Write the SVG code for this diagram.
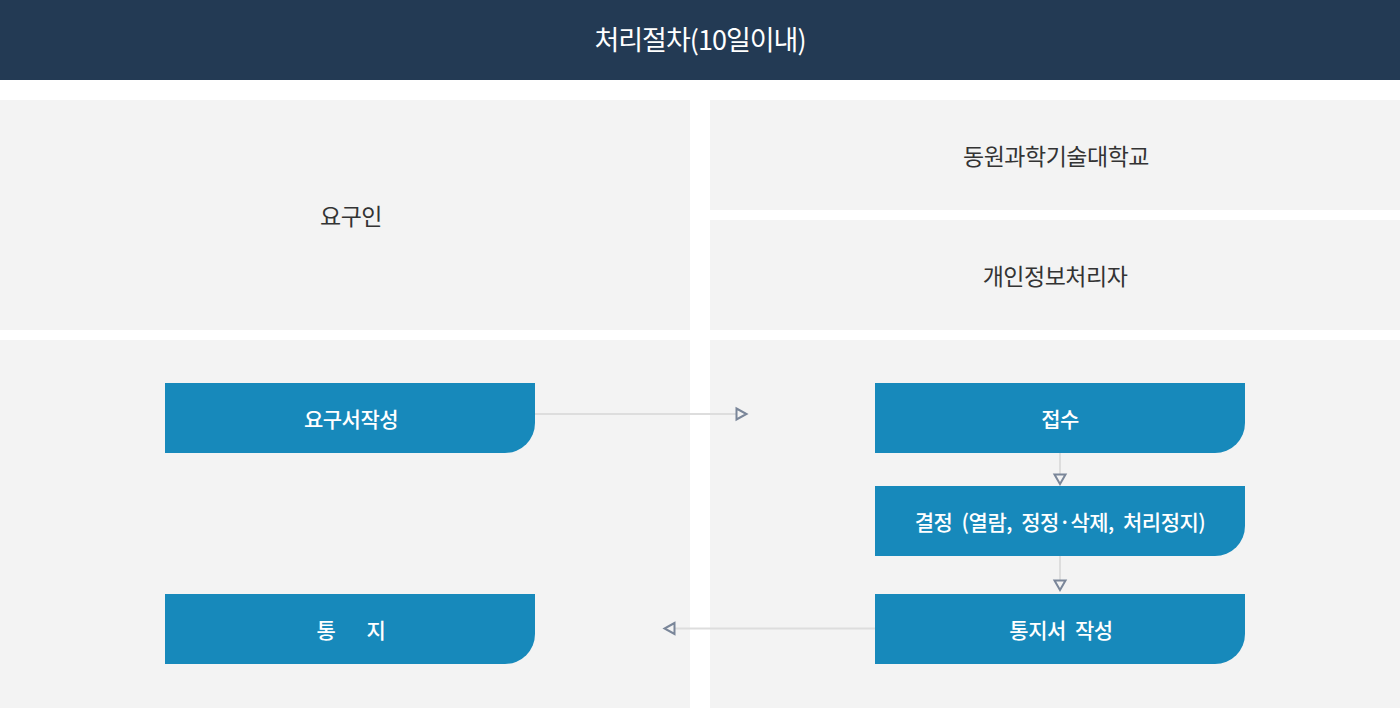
<svg xmlns="http://www.w3.org/2000/svg" width="1400" height="708" viewBox="0 0 1400 708">
<defs>
<style>
.panel{fill:#f3f3f3}
.box{fill:#1789bb}
.lbl{font-family:"Noto Sans CJK KR","Noto Sans",sans-serif;font-size:23px;fill:#333;text-anchor:middle;dominant-baseline:central;letter-spacing:-0.5px}
.btxt{font-family:"Noto Sans CJK KR","Noto Sans",sans-serif;font-size:21px;font-weight:500;fill:#fff;text-anchor:middle;dominant-baseline:central;letter-spacing:-0.5px;word-spacing:5px}
.title{font-family:"Noto Sans CJK KR","Noto Sans",sans-serif;font-size:27px;fill:#fff;text-anchor:middle;dominant-baseline:central;letter-spacing:-1px}
.conn{stroke:#dddddd;stroke-width:2;fill:none}
.head{fill:none;stroke:#7a8699;stroke-width:2;stroke-linejoin:miter}
</style>
</defs>
<rect width="1400" height="708" fill="#ffffff"/>
<g id="header">
<rect x="0" y="0" width="1400" height="80" fill="#233a54"/>
<text class="title" x="700" y="38">처리절차(10일이내)</text>
</g>
<g id="lane-requester">
<rect class="panel" x="0" y="100" width="690" height="230"/>
<text class="lbl" x="351" y="215">요구인</text>
</g>
<g id="lane-university">
<rect class="panel" x="710" y="100" width="690" height="110"/>
<text class="lbl" x="1056" y="155">동원과학기술대학교</text>
</g>
<g id="lane-processor">
<rect class="panel" x="710" y="220" width="690" height="110"/>
<text class="lbl" x="1055" y="275">개인정보처리자</text>
</g>
<g id="area-left"><rect class="panel" x="0" y="340" width="690" height="368"/></g>
<g id="area-right"><rect class="panel" x="710" y="340" width="690" height="368"/></g>
<g id="connectors">
<line class="conn" x1="535" y1="414" x2="736" y2="414"/>
<path class="head" d="M736.5,408.5 L746.5,414 L736.5,419.5 Z"/>
<line class="conn" x1="1060" y1="453" x2="1060" y2="474"/>
<path class="head" d="M1054.5,474.5 L1065.5,474.5 L1060,484 Z"/>
<line class="conn" x1="1060" y1="556" x2="1060" y2="580"/>
<path class="head" d="M1054.5,580.5 L1065.5,580.5 L1060,590 Z"/>
<line class="conn" x1="875" y1="628.5" x2="675" y2="628.5"/>
<path class="head" d="M674.5,623 L664.5,628.5 L674.5,634 Z"/>
</g>
<g id="node-request">
<path class="box" d="M165,383 H535 V423 A30,30 0 0 1 505,453 H165 Z"/>
<text class="btxt" x="351" y="418">요구서작성</text>
</g>
<g id="node-notice">
<path class="box" d="M165,594 H535 V634 A30,30 0 0 1 505,664 H165 Z"/>
<text class="btxt" y="629"><tspan x="326">통</tspan><tspan x="376">지</tspan></text>
</g>
<g id="node-receive">
<path class="box" d="M875,383 H1245 V423 A30,30 0 0 1 1215,453 H875 Z"/>
<text class="btxt" x="1060" y="418">접수</text>
</g>
<g id="node-decide">
<path class="box" d="M875,486 H1245 V526 A30,30 0 0 1 1215,556 H875 Z"/>
<text class="btxt" x="1060" y="521">결정 (열람, 정정·삭제, 처리정지)</text>
</g>
<g id="node-write">
<path class="box" d="M875,594 H1245 V634 A30,30 0 0 1 1215,664 H875 Z"/>
<text class="btxt" x="1061" y="629">통지서 작성</text>
</g>
</svg>
